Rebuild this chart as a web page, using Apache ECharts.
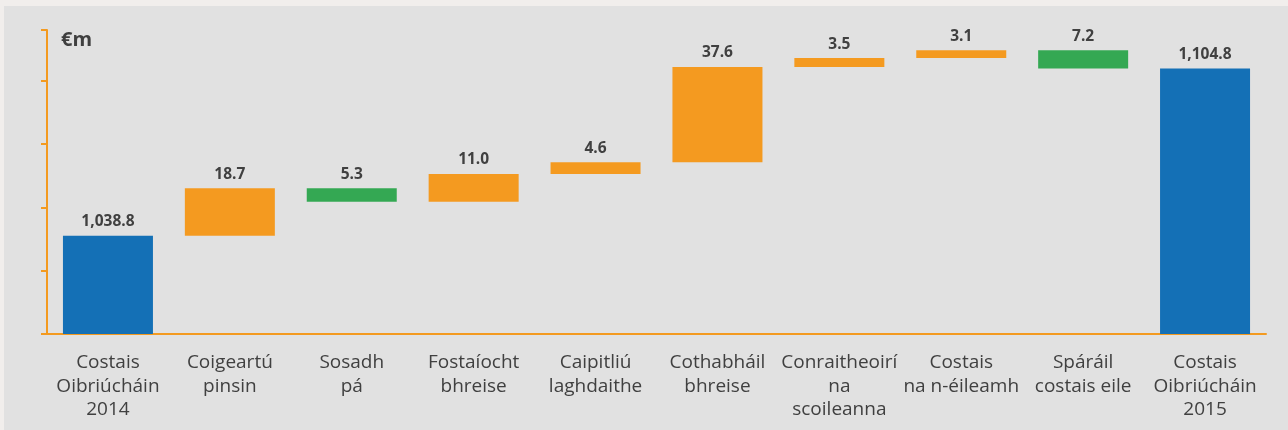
<!DOCTYPE html>
<html>
<head>
<meta charset="utf-8">
<script src="https://cdn.jsdelivr.net/npm/echarts@6/dist/echarts.min.js"></script>
<style>
  html, body { margin: 0; padding: 0; background: #f1eeec; }
  #chart { width: 1288px; height: 430px; }
</style>
</head>
<body>
<div id="chart"></div>
<script>
// categories (line breaks as in the original)
var categories = [
  "Costais\nOibriúcháin\n2014",
  "Coigeartú\npinsin",
  "Sosadh\npá",
  "Fostaíocht\nbhreise",
  "Caipitliú\nlaghdaithe",
  "Cothabháil\nbhreise",
  "Conraitheoirí\nna\nscoileanna",
  "Costais\nna n-éileamh",
  "Spáráil\ncostais eile",
  "Costais\nOibriúcháin\n2015"
];
// changes in €m ; first and last are totals
var changes = [1038.8, 18.7, -5.3, 11.0, 4.6, 37.6, 3.5, 3.1, -7.2, 1104.8];
var kinds = ["total", "up", "down", "up", "up", "up", "up", "up", "down", "total"];

var colors = { total: "#1470b6", up: "#f49a20", down: "#34a853" };

// waterfall: invisible base + visible bar
var base = [];
var shown = [];
var running = 0;
for (var i = 0; i < changes.length; i++) {
  if (kinds[i] === "total") {
    base.push(0);
    shown.push(changes[i]);
    running = changes[i];
  } else if (kinds[i] === "up") {
    base.push(running);
    shown.push(changes[i]);
    running += changes[i];
  } else {
    running += changes[i];
    base.push(running);
    shown.push(-changes[i]);
  }
}

function fmt(v) {
  return v.toLocaleString("en-US", { minimumFractionDigits: 1, maximumFractionDigits: 1 });
}

var myChart = echarts.init(document.getElementById("chart"));
var option = {
  backgroundColor: "#f1eeec",
  animation: false,
  textStyle: { fontFamily: "Open Sans" },
  graphic: [
    {
      type: "rect",
      z: -10,
      shape: { x: 4, y: 6, width: 1284, height: 424 },
      style: { fill: "#e1e1e1" }
    },
    {
      type: "text",
      left: 61,
      top: 30,
      style: { text: "€m", fill: "#3f3f3f", font: "bold 20px 'Open Sans'" }
    }
  ],
  grid: { left: 47, right: 22, top: 30, bottom: 96, containLabel: false },
  xAxis: {
    type: "category",
    data: categories,
    axisLine: { lineStyle: { color: "#f39a20", width: 2 } },
    axisTick: { length: 5, lineStyle: { color: "#f39a20", width: 2 } },
    axisLabel: {
      interval: 0,
      color: "#404040",
      fontSize: 19,
      lineHeight: 23.5,
      margin: 17
    }
  },
  yAxis: {
    type: "value",
    min: 1000,
    max: 1120,
    interval: 25,
    axisLine: { show: true, lineStyle: { color: "#f39a20", width: 2 } },
    axisTick: { show: true, length: 6, lineStyle: { color: "#f39a20", width: 2 } },
    axisLabel: { show: false },
    splitLine: { show: false }
  },
  series: [
    {
      type: "bar",
      stack: "w",
      data: base,
      itemStyle: { color: "transparent" },
      silent: true,
      barWidth: 90
    },
    {
      type: "bar",
      stack: "w",
      barWidth: 90,
      data: shown.map(function (v, i) {
        return { value: v, itemStyle: { color: colors[kinds[i]] } };
      }),
      label: {
        show: true,
        position: "top",
        distance: 6,
        color: "#404040",
        fontSize: 15.5,
        fontWeight: "bold",
        formatter: function (p) { return fmt(Math.abs(changes[p.dataIndex])); }
      }
    }
  ]
};
myChart.setOption(option);
</script>
</body>
</html>
